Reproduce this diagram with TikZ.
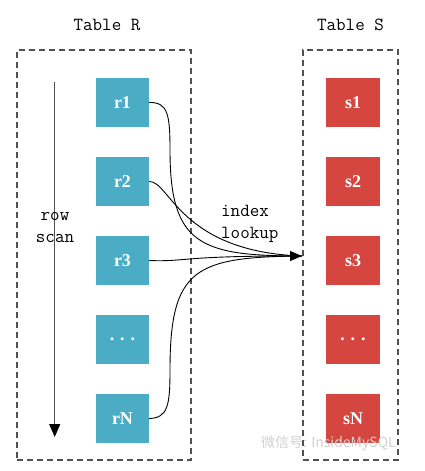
\documentclass[tikz,border=0pt]{standalone}
\usepackage{fontspec}
\setmainfont{Liberation Serif}
\newfontfamily\cjkfont{Noto Sans CJK SC}
\usetikzlibrary{arrows.meta}
\definecolor{rblue}{RGB}{75,172,198}
\definecolor{sred}{RGB}{214,70,64}
\definecolor{dashgray}{RGB}{80,80,80}
\tikzset{
  x=1pt,y=-1pt,
  tablebox/.style={draw=dashgray,line width=1.2pt,dash pattern=on 6pt off 4pt},
  rbox/.style={fill=rblue,minimum width=53pt,minimum height=49pt,inner sep=0pt,text=white,font=\fontsize{18}{20}\selectfont\bfseries},
  sbox/.style={fill=sred,minimum width=54pt,minimum height=49pt,inner sep=0pt,text=white,font=\fontsize{18}{20}\selectfont\bfseries},
  lbl/.style={font=\ttfamily\fontsize{18.5}{22}\selectfont,align=center,inner sep=0pt},
  link/.style={draw=black,line width=0.9pt},
}
\begin{document}
\begin{tikzpicture}
\useasboundingbox (0,0) rectangle (425,471);
% tables
\node[tablebox,minimum width=174pt,minimum height=410pt,inner sep=0pt] (TR) at (104,255) {};
\node[tablebox,minimum width=95pt,minimum height=410pt,inner sep=0pt] (TS) at (350.5,255) {};
\node[lbl] (tr) at (107,25) {Table R};
\node[lbl] (ts) at (350.5,25) {Table S};
% R rows
\node[rbox] (r1) at (122.5,102.5) {r1};
\node[rbox] (r2) at (122.5,181.5) {r2};
\node[rbox] (r3) at (122.5,260.5) {r3};
\node[rbox] (rd) at (122.5,339.5) {.\,\,.\,\,.};
\node[rbox] (rN) at (122.5,418.5) {rN};
% S rows
\node[sbox] (s1) at (353,102.5) {s1};
\node[sbox] (s2) at (353,181.5) {s2};
\node[sbox] (s3) at (353,260.5) {s3};
\node[sbox] (sd) at (353,339.5) {.\,\,.\,\,.};
\node[sbox] (sN) at (353,418.5) {sN};
% row scan
\coordinate (scanA) at (54.7,82);
\coordinate (scanB) at (54.7,437);
\draw[draw=dashgray,line width=1.1pt,-{Triangle[length=13pt,width=11pt,fill=black,color=black]}] (scanA) -- (scanB);
\node[lbl] (rowscan) at (55,227) {row\\scan};
% index lookup
\node[lbl,align=left,anchor=west] (idx) at (221,224) {index\\lookup};
\coordinate (t) at (302,256);
\draw[link] (r1.east) .. controls (168,102) and (170,115) .. (170,150) .. controls (170,245) and (200,256) .. (t);
\draw[link] (r2.east) .. controls (170,181) and (180,252) .. (t);
\draw[link] (rN.east) .. controls (168,418) and (170,405) .. (170,370) .. controls (170,268) and (195,257) .. (t);
\draw[link,-{Triangle[length=12pt,width=10pt]}] (r3.east) .. controls (185,262) and (180,256) .. (t);
% watermark
\node[font=\cjkfont\fontsize{14}{16}\selectfont,text=black!18,anchor=west,inner sep=0pt] (wm) at (261,443) {微信号: InsideMySQL};
\end{tikzpicture}
\end{document}
